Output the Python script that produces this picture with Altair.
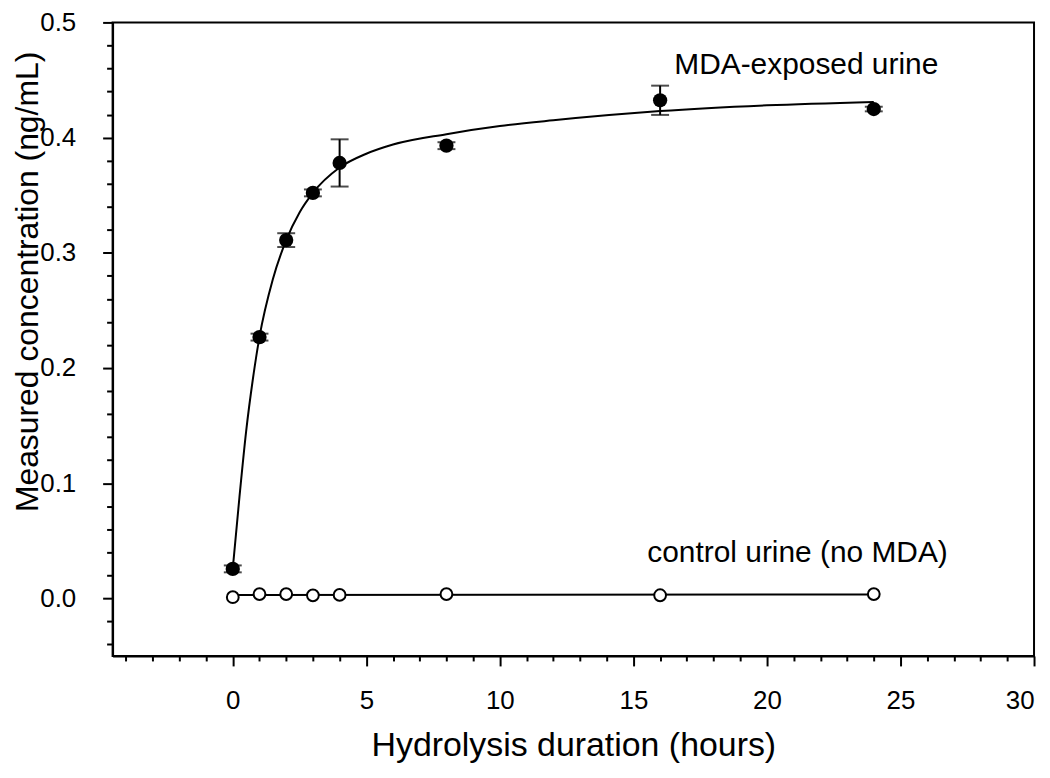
import altair as alt
import pandas as pd

# ---- data ----
hours = [0, 1, 2, 3, 4, 8, 16, 24]
mda_mean = [0.0256, 0.2268, 0.311, 0.352, 0.3780, 0.393, 0.4324, 0.4248]
mda_sd = [0.003, 0.003, 0.006, 0.003, 0.0205, 0.003, 0.0127, 0.002]
control_mean = [0.0010, 0.0037, 0.0037, 0.0026, 0.0030, 0.0037, 0.0027, 0.0037]

fit_x = [0, 0.25, 0.5, 0.75, 1, 1.5, 2, 2.5, 3, 4, 5, 6, 8, 10, 12, 16, 20, 24]
fit_y = [0.026, 0.088, 0.145, 0.190, 0.227, 0.277, 0.311, 0.335, 0.352, 0.374,
         0.386, 0.394, 0.403, 0.410, 0.415, 0.423, 0.428, 0.431]

ctrl_fit_x = [0, 24]
ctrl_fit_y = [0.0029, 0.0034]

label_text = ["MDA-exposed urine", "control urine (no MDA)"]
label_x = [16.53, 15.52]
label_y = [0.455, 0.032]

x_ticks = list(range(-4, 31))
y_ticks = [round(-0.04 + 0.02 * i, 2) for i in range(28)]

# ---- tables ----
mda = pd.DataFrame({"x": hours, "y": mda_mean,
                    "lo": [m - s for m, s in zip(mda_mean, mda_sd)],
                    "hi": [m + s for m, s in zip(mda_mean, mda_sd)]})
ctrl = pd.DataFrame({"x": hours, "y": control_mean})
fit = pd.DataFrame({"x": fit_x, "y": fit_y})
cfit = pd.DataFrame({"x": ctrl_fit_x, "y": ctrl_fit_y})
labels = pd.DataFrame({"x": label_x, "y": label_y, "t": label_text})

FONT = "Liberation Sans"

x_scale = alt.Scale(domain=[-4.5, 30], nice=False, zero=False)
y_scale = alt.Scale(domain=[-0.05, 0.5], nice=False, zero=False)

x_axis = alt.Axis(
    title="Hydrolysis duration (hours)",
    values=x_ticks,
    labelExpr="datum.value % 5 === 0 ? datum.label : ''",
    tickSize={"condition": {"test": "datum.value % 5 === 0", "value": 10}, "value": 5},
    tickWidth=2, tickColor="black",
    domainWidth=2, domainColor="black",
    grid=False,
    labelFont=FONT, labelFontSize=26, labelColor="black", labelPadding=22,
    labelFlush=True, labelOverlap=False,
    titleFont=FONT, titleFontSize=34, titleFontWeight="normal", titleColor="black",
    titleX=462.5, titleY=100, titleAlign="center", titleBaseline="alphabetic",
)

major_y = "abs(datum.value*10 - round(datum.value*10)) < 1e-6"
y_axis = alt.Axis(
    title="Measured concentration (ng/mL)",
    values=y_ticks,
    labelExpr=f"{major_y} ? format(datum.value, '.1f') : ''",
    tickSize={"condition": {"test": major_y, "value": 10}, "value": 6},
    tickWidth=2, tickColor="black",
    domainWidth=2, domainColor="black",
    grid=False,
    labelFont=FONT, labelFontSize=26, labelColor="black", labelPadding=27,
    labelFlush=False, labelOverlap=False,
    titleFont=FONT, titleFontSize=32, titleFontWeight="normal", titleColor="black",
    titleX=-75, titleY=260, titleAngle=-90, titleAlign="center", titleBaseline="alphabetic",
)

X = alt.X("x:Q", scale=x_scale, axis=x_axis)
Y = alt.Y("y:Q", scale=y_scale, axis=y_axis)

fit_line = alt.Chart(fit).mark_line(color="black", strokeWidth=2, interpolate="monotone").encode(x=X, y=Y)
ctrl_line = alt.Chart(cfit).mark_line(color="black", strokeWidth=2).encode(x=X, y=Y)

err_rule = alt.Chart(mda).mark_rule(color="black", strokeWidth=2).encode(
    x=X, y=alt.Y("lo:Q", scale=y_scale, axis=y_axis), y2="hi:Q")
cap_lo = alt.Chart(mda).mark_tick(color="black", orient="horizontal", size=18, thickness=2).encode(
    x=X, y=alt.Y("lo:Q", scale=y_scale, axis=y_axis))
cap_hi = alt.Chart(mda).mark_tick(color="black", orient="horizontal", size=18, thickness=2).encode(
    x=X, y=alt.Y("hi:Q", scale=y_scale, axis=y_axis))

mda_pts = alt.Chart(mda).mark_point(shape="circle", filled=True, color="black", size=205, opacity=1).encode(x=X, y=Y)
ctrl_pts = alt.Chart(ctrl).mark_point(shape="circle", filled=True, fill="white", stroke="black",
                                      strokeWidth=2, size=140, opacity=1).encode(x=X, y=Y)

txt = alt.Chart(labels).mark_text(font=FONT, fontSize=30, color="black", align="left",
                                  baseline="alphabetic").encode(x=X, y=Y, text="t:N")

chart = alt.layer(fit_line, ctrl_line, err_rule, cap_lo, cap_hi, mda_pts, ctrl_pts, txt).properties(
    width=925, height=636,
    autosize=alt.AutoSizeParams(type="none"),
    padding={"left": 105, "top": 13, "right": 8, "bottom": 110},
    background="white",
).configure_view(stroke="black", strokeWidth=2)

chart.save("out.html", embed_options={"renderer": "svg", "actions": False})
